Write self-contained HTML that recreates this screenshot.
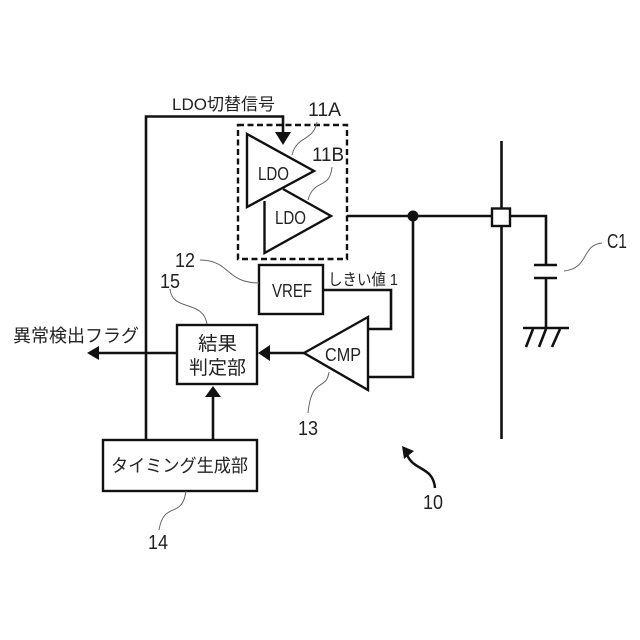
<!DOCTYPE html>
<html lang="ja"><head><meta charset="utf-8">
<style>
html,body{margin:0;padding:0;background:#fff}
svg{display:block}
text{font-family:"Liberation Sans","Noto Sans CJK JP",sans-serif;fill:#222}
.w{fill:none;stroke:#111;stroke-width:2.6}
.t{fill:none;stroke:#111;stroke-width:2.4}
.l{fill:none;stroke:#666;stroke-width:1}
</style></head><body>
<svg width="640" height="640" viewBox="0 0 640 640" xmlns="http://www.w3.org/2000/svg">
<rect width="640" height="640" fill="#fff"/>
<!-- wires -->
<path class="w" d="M146 440V116.500H283V134"/>
<polygon points="283,145 275,132 291,132" fill="#111"/>
<rect x="238" y="125" width="109" height="134" fill="none" stroke="#111" stroke-width="2.400" stroke-dasharray="6 3.500"/>
<polygon class="t" points="247,134 314,171 247,207"/>
<path class="t" d="M264.500 201V253L331 216L283 189"/>
<path class="w" d="M347 216H492"/>
<circle cx="413" cy="216" r="5.500" fill="#111"/>
<path class="w" d="M413 216V377H368"/>
<rect x="259" y="265" width="64" height="49" class="t"/>
<path class="w" d="M323 290H391V329H368"/>
<polygon class="t" points="304,353 368,317 368,390"/>
<path class="w" d="M304 353H268"/>
<polygon points="258,353 270,345 270,361" fill="#111"/>
<rect x="177" y="325" width="80" height="59" class="t"/>
<path class="w" d="M177 353H98"/>
<polygon points="87,353 99,346 99,360" fill="#111"/>
<path class="w" d="M213 440V396"/>
<polygon points="213,386 205,397 221,397" fill="#111"/>
<rect x="103" y="440" width="154" height="51" class="t"/>
<!-- right side -->
<path class="w" d="M501.500 141V439"/>
<rect x="492" y="208.500" width="18" height="17.500" fill="#fff" stroke="#111" stroke-width="2.400"/>
<path class="w" d="M510 216H546V265M534 265H557M534 278H557M546 278V328M523 328H569"/>
<path class="w" d="M533 329L526 347M546 329L539 347M560 329L552 347"/>
<!-- leaders -->
<path class="l" d="M317 122C313 142 297 135 292 155"/>
<path class="l" d="M332 167C330 190 314 178 308 200"/>
<path class="l" d="M200 260C230 260 226 283 259 283"/>
<path class="l" d="M170 289C172 312 203 299 207 324"/>
<path class="l" d="M329 372C326 392 312 375 308 413"/>
<path class="l" d="M186 491C182 520 164 500 159 530"/>
<path class="l" d="M602 243C581 245 590 268 564 271"/>
<path fill="none" stroke="#111" stroke-width="2.500" d="M435 488C433 465 412 472 406 452"/>
<polygon points="402,446 414,451 404,459" fill="#111"/>
<!-- labels -->
<text x="172" y="110" font-size="17" textLength="103" lengthAdjust="spacingAndGlyphs">LDO切替信号</text>
<text x="308" y="116" font-size="19" textLength="33" lengthAdjust="spacingAndGlyphs">11A</text>
<text x="312" y="161" font-size="19" textLength="32" lengthAdjust="spacingAndGlyphs">11B</text>
<text x="258" y="180" font-size="18" textLength="31" lengthAdjust="spacingAndGlyphs">LDO</text>
<text x="275" y="224" font-size="18" textLength="31" lengthAdjust="spacingAndGlyphs">LDO</text>
<text x="175" y="267" font-size="20" textLength="20" lengthAdjust="spacingAndGlyphs">12</text>
<text x="160" y="288" font-size="20" textLength="20" lengthAdjust="spacingAndGlyphs">15</text>
<text x="13" y="342" font-size="18" textLength="126" lengthAdjust="spacingAndGlyphs">異常検出フラグ</text>
<text x="198" y="350" font-size="19" textLength="39" lengthAdjust="spacingAndGlyphs">結果</text>
<text x="189" y="374" font-size="19" textLength="57" lengthAdjust="spacingAndGlyphs">判定部</text>
<text x="272" y="297" font-size="18" textLength="40" lengthAdjust="spacingAndGlyphs">VREF</text>
<text x="328" y="285" font-size="16" textLength="70" lengthAdjust="spacingAndGlyphs">しきい値 1</text>
<text x="325" y="361" font-size="18" textLength="36" lengthAdjust="spacingAndGlyphs">CMP</text>
<text x="298" y="435" font-size="20" textLength="20" lengthAdjust="spacingAndGlyphs">13</text>
<text x="111" y="472" font-size="18" textLength="137" lengthAdjust="spacingAndGlyphs">タイミング生成部</text>
<text x="148" y="549" font-size="20" textLength="20" lengthAdjust="spacingAndGlyphs">14</text>
<text x="423" y="509" font-size="20" textLength="20" lengthAdjust="spacingAndGlyphs">10</text>
<text x="607" y="248" font-size="20" textLength="20" lengthAdjust="spacingAndGlyphs">C1</text>
</svg>
</body></html>
